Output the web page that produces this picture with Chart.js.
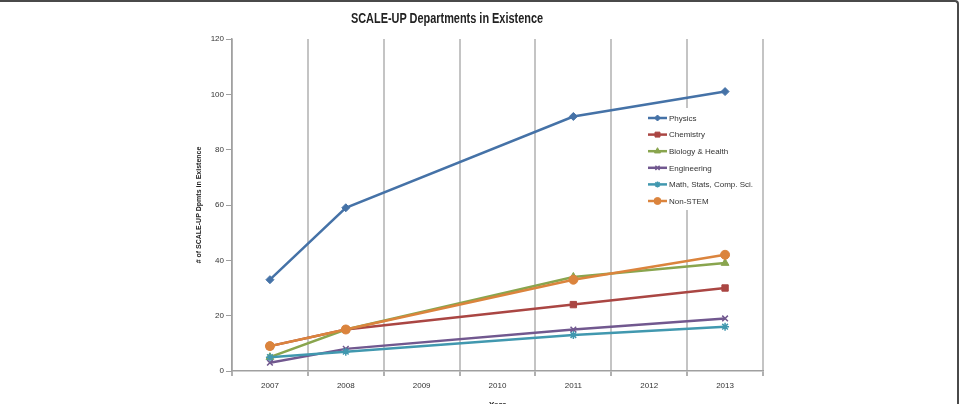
<!DOCTYPE html>
<html>
<head>
<meta charset="utf-8">
<script src="https://cdn.jsdelivr.net/npm/chart.js@4"></script>
<style>
  html, body { margin: 0; padding: 0; background: #fff; }
  #wrap { position: relative; width: 961px; height: 404px; overflow: hidden; }
  #frame {
    position: absolute; left: 0; top: 0; width: 957px; height: 420px;
    border-top: 2px solid #4a4a4a; border-right: 2px solid #4a4a4a;
    border-top-right-radius: 4px;
    box-sizing: content-box; pointer-events: none;
  }
  #title {
    position: absolute; left: 0; top: 10px; width: 894px; text-align: center;
    font: bold 14px "Liberation Sans", sans-serif; color: #222;
    transform: scaleX(0.78); transform-origin: 447px 0;
  }
  canvas { position: absolute; left: 0; top: 0; }
</style>
</head>
<body>
<div id="wrap">
  <canvas id="chart" width="961" height="404"></canvas>
  <div id="title">SCALE-UP Departments in Existence</div>
  <div id="frame"></div>
</div>
<script>
const years = ["2007", "2008", "2009", "2010", "2011", "2012", "2013"];
const seriesNames = ["Physics", "Chemistry", "Biology & Health", "Engineering", "Math, Stats, Comp. Sci.", "Non-STEM"];
const physics     = [33, 59, null, null, 92, null, 101];
const chemistry   = [9, 15, null, null, 24, null, 30];
const biology     = [5, 15, null, null, 34, null, 39];
const engineering = [3, 8, null, null, 15, null, 19];
const mathStats   = [5, 7, null, null, 13, null, 16];
const nonStem     = [9, 15, null, null, 33, null, 42];
const yTicks = [0, 20, 40, 60, 80, 100, 120];

const FONT = "'Liberation Sans', sans-serif";
const colors = ["#4572A7", "#AA4643", "#89A54E", "#71588F", "#4198AF", "#DB843D"];
const styles = [
  { pointStyle: "rectRot", radius: 4, bw: 1 },
  { pointStyle: "rect", radius: 4.5, bw: 1 },
  { pointStyle: "triangle", radius: 4.5, bw: 1 },
  { pointStyle: "crossRot", radius: 4, bw: 1.5 },
  { pointStyle: "star", radius: 4, bw: 1.5 },
  { pointStyle: "circle", radius: 4.5, bw: 1 },
];
const values = [physics, chemistry, biology, engineering, mathStats, nonStem];

const datasets = seriesNames.map((name, i) => ({
  label: name,
  data: values[i],
  borderColor: colors[i],
  backgroundColor: colors[i],
  borderWidth: 2.5,
  pointStyle: styles[i].pointStyle,
  pointRadius: styles[i].radius,
  pointBorderWidth: styles[i].bw,
  pointBorderColor: colors[i],
  pointBackgroundColor: colors[i],
  tension: 0,
  spanGaps: true,
  order: seriesNames.length - i,
}));

// legend drawn inside the plot, like the Excel original
const insideLegend = {
  id: "insideLegend",
  beforeDatasetsDraw(chart) {
    const ctx = chart.ctx;
    const x0 = 648, y0 = 118, step = 16.6;
    ctx.save();
    ctx.fillStyle = "#fff";
    ctx.fillRect(640, 108, 118, 102);
    seriesNames.forEach((name, i) => {
      const y = y0 + i * step;
      ctx.strokeStyle = colors[i];
      ctx.lineWidth = 2.5;
      ctx.beginPath();
      ctx.moveTo(x0, y);
      ctx.lineTo(x0 + 19, y);
      ctx.stroke();
      ctx.fillStyle = colors[i];
      ctx.lineWidth = styles[i].bw;
      if (Chart.helpers && Chart.helpers.drawPoint) {
        Chart.helpers.drawPoint(ctx, {
          pointStyle: styles[i].pointStyle,
          radius: styles[i].radius - 1,
          rotation: 0,
          borderWidth: styles[i].bw,
        }, x0 + 9.5, y);
      }
      ctx.fillStyle = "#333";
      ctx.font = "8px " + FONT;
      ctx.textAlign = "left";
      ctx.textBaseline = "middle";
      ctx.fillText(name, x0 + 21, y + 0.5);
    });
    ctx.restore();
  },
};

new Chart(document.getElementById("chart"), {
  type: "line",
  data: { labels: years, datasets: datasets },
  plugins: [insideLegend],
  options: {
    responsive: false,
    animation: false,
    layout: { padding: { left: 190, right: 198, top: 39, bottom: 0 } },
    plugins: {
      legend: { display: false },
      title: { display: false },
      tooltip: { enabled: false },
    },
    scales: {
      x: {
        offset: true,
        afterFit: (s) => { s.height = 33; },
        grid: {
          offset: true,
          color: "#c4c4c4",
          lineWidth: 2,
          drawTicks: true,
          tickLength: 5,
          tickColor: "#b0b0b0",
        },
        border: { color: "#a0a0a0", width: 1.5 },
        ticks: { font: { family: FONT, size: 8 }, color: "#333", padding: 5, maxRotation: 0 },
        title: {
          display: true,
          text: "Year",
          font: { family: FONT, size: 8, weight: "bold" },
          color: "#222",
          padding: { top: 0, bottom: -6 },
        },
      },
      y: {
        min: 0,
        max: 120,
        afterFit: (s) => { s.width = 42; },
        afterBuildTicks: (s) => { s.ticks = yTicks.map((v) => ({ value: v })); },
        grid: {
          drawOnChartArea: false,
          drawTicks: true,
          tickLength: 6,
          tickColor: "#a0a0a0",
        },
        border: { color: "#a0a0a0", width: 1.5 },
        ticks: { font: { family: FONT, size: 8 }, color: "#333", padding: 2 },
        title: {
          display: true,
          text: "# of SCALE-UP Dpmts in Existence",
          font: { family: FONT, size: 7, weight: "bold" },
          color: "#222",
          padding: { top: 5, bottom: 0 },
        },
      },
    },
  },
});
</script>
</body>
</html>
